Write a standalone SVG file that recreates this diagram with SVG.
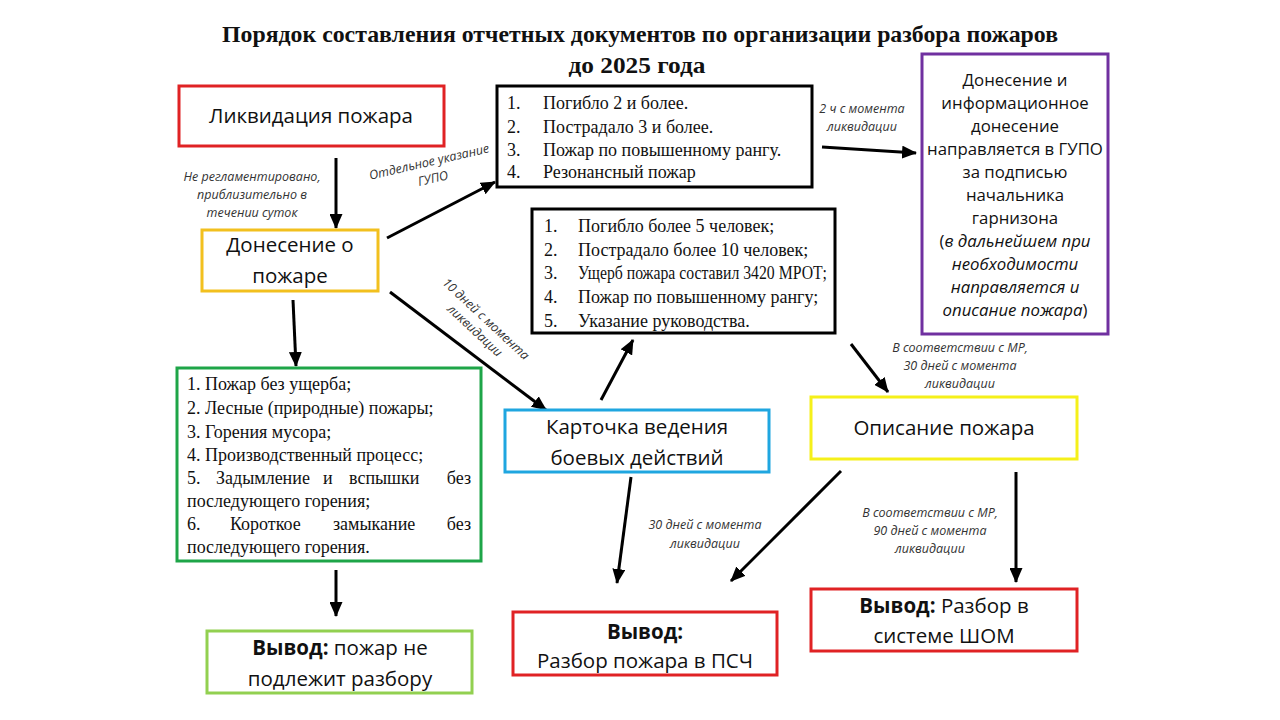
<svg xmlns="http://www.w3.org/2000/svg" width="1280" height="720" viewBox="0 0 1280 720">
<defs>
<marker id="ah" markerUnits="userSpaceOnUse" markerWidth="15" markerHeight="13" refX="14" refY="6.5" orient="auto">
<path d="M0,0 L15,6.5 L0,13 z" fill="#000"/>
</marker>
</defs>
<style>
.box{fill:#fff;stroke-width:3}
.t{font-family:"Open Sans","Noto Sans",sans-serif;font-size:20.5px;fill:#111;text-anchor:middle}
.s{font-family:"Liberation Serif","Times New Roman",serif;font-size:18px;fill:#111}
.e{text-anchor:end}
.p{font-family:"Open Sans","Noto Sans",sans-serif;font-size:16.8px;fill:#111;text-anchor:middle}
.l{font-family:"Open Sans","Noto Sans",sans-serif;font-size:12.5px;font-style:italic;fill:#333;text-anchor:middle}
.title{font-family:"Liberation Serif","Times New Roman",serif;font-size:23px;font-weight:bold;fill:#111;text-anchor:middle}
.con{stroke:#000;stroke-width:3;fill:none;marker-end:url(#ah)}
</style>
<rect width="1280" height="720" fill="#fff"/>
<g id="title">
<text class="title" x="640" y="42" textLength="836" lengthAdjust="spacingAndGlyphs">Порядок составления отчетных документов по организации разбора пожаров</text>
<text class="title" x="637" y="73" textLength="137" lengthAdjust="spacingAndGlyphs">до 2025 года</text>
</g>
<g id="connectors">
<line class="con" x1="336" y1="158" x2="336" y2="228"/>
<line class="con" x1="387" y1="238" x2="495" y2="182"/>
<line class="con" x1="390" y1="292" x2="546" y2="410"/>
<line class="con" x1="293" y1="300" x2="296" y2="366"/>
<line class="con" x1="822" y1="147" x2="916" y2="153"/>
<line class="con" x1="601" y1="400" x2="633" y2="340"/>
<line class="con" x1="851" y1="344" x2="888" y2="392"/>
<line class="con" x1="631" y1="477" x2="617" y2="583"/>
<line class="con" x1="841" y1="471" x2="731" y2="581"/>
<line class="con" x1="1016" y1="472" x2="1016" y2="582"/>
<line class="con" x1="336" y1="570" x2="336" y2="616"/>
<g id="labels">
<text class="l" x="252" y="181">Не регламентировано,</text>
<text class="l" x="252" y="199">приблизительно в</text>
<text class="l" x="252" y="217">течении суток</text>
<g transform="translate(430,166) rotate(-13)">
<text class="l" x="0" y="0">Отдельное указание</text>
<text class="l" x="0" y="17">ГУПО</text>
</g>
<g transform="translate(483,322) rotate(43)">
<text class="l" x="0" y="0">10 дней с момента</text>
<text class="l" x="0" y="16">ликвидации</text>
</g>
<text class="l" x="862" y="113">2 ч с момента</text>
<text class="l" x="862" y="131">ликвидации</text>
<text class="l" x="960" y="352">В соответствии с МР,</text>
<text class="l" x="960" y="370">30 дней с момента</text>
<text class="l" x="960" y="388">ликвидации</text>
<text class="l" x="705" y="529">30 дней с момента</text>
<text class="l" x="705" y="548">ликвидации</text>
<text class="l" x="930" y="517">В соответствии с МР,</text>
<text class="l" x="930" y="535">90 дней с момента</text>
<text class="l" x="930" y="553">ликвидации</text>
</g>
</g>
<g id="likvidacia">
<rect class="box" x="179" y="86" width="265" height="60" stroke="#e02224"/>
<text class="t" x="311" y="123">Ликвидация пожара</text>
</g>
<g id="donesenie">
<rect class="box" x="202" y="230" width="176" height="61" stroke="#f2c01e"/>
<text class="t" x="290" y="252">Донесение о</text>
<text class="t" x="290" y="283">пожаре</text>
</g>
<g id="crit1">
<rect class="box" x="497" y="86" width="315" height="101" stroke="#000"/>
<text class="s" x="507" y="109">1.</text><text class="s" x="543" y="109">Погибло 2 и более.</text>
<text class="s" x="507" y="133">2.</text><text class="s" x="543" y="133">Пострадало 3 и более.</text>
<text class="s" x="507" y="156">3.</text><text class="s" x="543" y="156">Пожар по повышенному рангу.</text>
<text class="s" x="507" y="178">4.</text><text class="s" x="543" y="178">Резонансный пожар</text>
</g>
<g id="crit2">
<rect class="box" x="532" y="209" width="303" height="124" stroke="#000"/>
<text class="s" x="544" y="232">1.</text><text class="s" x="578" y="232">Погибло более 5 человек;</text>
<text class="s" x="544" y="256">2.</text><text class="s" x="578" y="256">Пострадало более 10 человек;</text>
<text class="s" x="544" y="279">3.</text><text class="s" x="578" y="279" textLength="249" lengthAdjust="spacingAndGlyphs">Ущерб пожара составил 3420 МРОТ;</text>
<text class="s" x="544" y="303">4.</text><text class="s" x="578" y="303">Пожар по повышенному рангу;</text>
<text class="s" x="544" y="327">5.</text><text class="s" x="578" y="327">Указание руководства.</text>
</g>
<g id="gupo">
<rect class="box" x="922" y="54" width="186" height="280" stroke="#7030a0"/>
<text class="p" x="1015" y="86">Донесение и</text>
<text class="p" x="1015" y="109">информационное</text>
<text class="p" x="1015" y="132">донесение</text>
<text class="p" x="1015" y="155">направляется в ГУПО</text>
<text class="p" x="1015" y="178">за подписью</text>
<text class="p" x="1015" y="201">начальника</text>
<text class="p" x="1015" y="224">гарнизона</text>
<text class="p" x="1015" y="247">(<tspan font-style="italic">в дальнейшем при</tspan></text>
<text class="p" x="1015" y="270" font-style="italic">необходимости</text>
<text class="p" x="1015" y="293" font-style="italic">направляется и</text>
<text class="p" x="1015" y="316"><tspan font-style="italic">описание пожара</tspan>)</text>
</g>
<g id="noanalysis">
<rect class="box" x="177" y="368" width="304" height="193" stroke="#1ea548"/>
<text class="s" x="187" y="390">1. Пожар без ущерба;</text>
<text class="s" x="187" y="414">2. Лесные (природные) пожары;</text>
<text class="s" x="187" y="438">3. Горения мусора;</text>
<text class="s" x="187" y="461">4. Производственный процесс;</text>
<text class="s" x="187" y="484">5.</text><text class="s" x="216" y="484">Задымление</text><text class="s" x="323" y="484">и</text><text class="s" x="349" y="484">вспышки</text><text class="s e" x="471" y="484">без</text>
<text class="s" x="187" y="507">последующего горения;</text>
<text class="s" x="187" y="530">6.</text><text class="s" x="230" y="530">Короткое</text><text class="s" x="333" y="530">замыкание</text><text class="s e" x="471" y="530">без</text>
<text class="s" x="187" y="553">последующего горения.</text>
</g>
<g id="kartochka">
<rect class="box" x="505" y="410" width="264" height="62" stroke="#1fa6e0"/>
<text class="t" x="637" y="434">Карточка ведения</text>
<text class="t" x="637" y="465">боевых действий</text>
</g>
<g id="opisanie">
<rect class="box" x="811" y="397" width="266" height="62" stroke="#f5f01a"/>
<text class="t" x="944" y="435">Описание пожара</text>
</g>
<g id="vyvod1">
<rect class="box" x="207" y="631" width="265" height="62" stroke="#92d050"/>
<text class="t" x="340" y="655"><tspan font-weight="bold">Вывод:</tspan> пожар не</text>
<text class="t" x="340" y="686">подлежит разбору</text>
</g>
<g id="vyvod2">
<rect class="box" x="513" y="612" width="264" height="63" stroke="#e02224"/>
<text class="t" x="645" y="639" font-weight="bold">Вывод:</text>
<text class="t" x="645" y="668">Разбор пожара в ПСЧ</text>
</g>
<g id="vyvod3">
<rect class="box" x="811" y="589" width="266" height="62" stroke="#e02224"/>
<text class="t" x="944" y="613"><tspan font-weight="bold">Вывод:</tspan> Разбор в</text>
<text class="t" x="944" y="643">системе ШОМ</text>
</g>
</svg>
